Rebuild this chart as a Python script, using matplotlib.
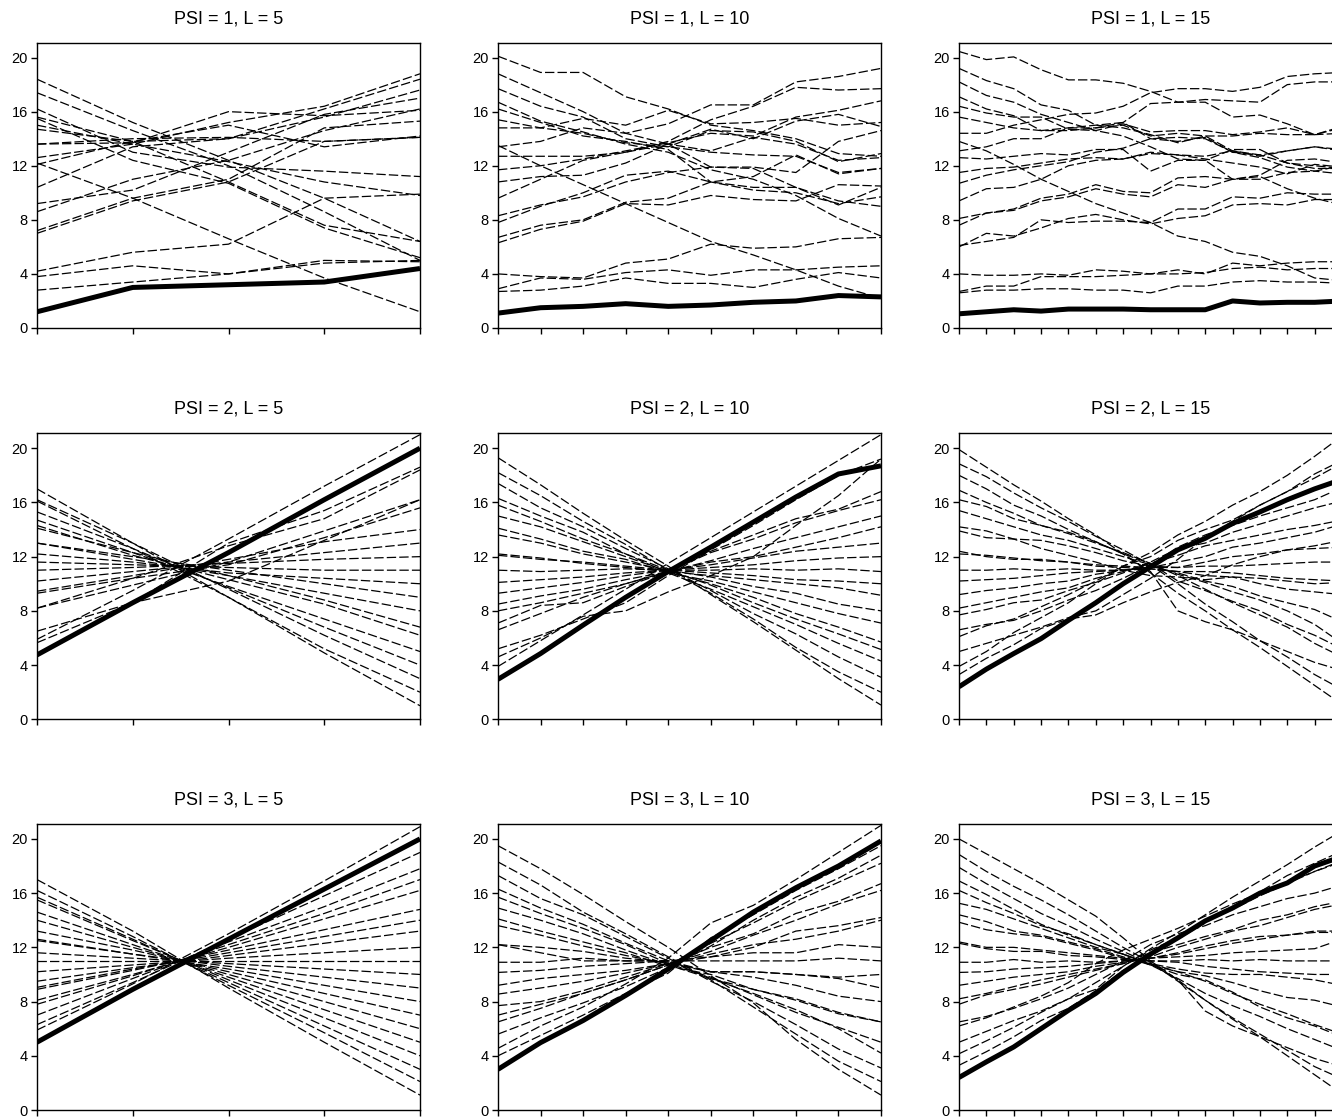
import matplotlib
matplotlib.use("Agg")
import matplotlib.pyplot as plt

plt.rcParams['font.family'] = ['Liberation Sans', 'DejaVu Sans']

# ---- PSI = 1 ----
psi1_L5 = [
    [18.4, 15.2, 12.4, 9.6, 6.4],
    [17.4, 14.6, 12.0, 8.6, 5.0],
    [16.2, 13.0, 11.9, 11.6, 11.2],
    [15.6, 13.8, 10.8, 7.6, 6.4],
    [15.5, 12.4, 10.7, 7.4, 5.2],
    [15.0, 13.6, 12.3, 10.8, 9.8],
    [14.7, 13.8, 15.0, 13.4, 14.2],
    [13.6, 13.7, 16.0, 15.7, 16.1],
    [13.6, 14.0, 14.1, 13.8, 14.1],
    [12.6, 13.6, 15.2, 16.4, 18.8],
    [12.2, 9.6, 6.6, 3.7, 1.2],
    [12.1, 13.8, 14.0, 16.2, 18.4],
    [10.4, 13.4, 14.0, 15.6, 17.6],
    [9.2, 10.2, 13.0, 15.8, 17.0],
    [8.6, 11.0, 12.4, 14.6, 16.2],
    [7.2, 9.6, 11.0, 14.8, 15.3],
    [7.0, 9.4, 10.8, 13.8, 14.1],
    [4.2, 5.6, 6.2, 9.6, 9.9],
    [3.8, 4.6, 4.0, 4.8, 5.0],
    [2.8, 3.4, 4.0, 5.0, 4.9],
]
psi1_L5_bold = [1.2, 3.0, 3.2, 3.4, 4.4]

psi1_L10 = [
    [20.1, 18.9, 18.9, 17.1, 16.2, 15.0, 14.6, 14.0, 12.9, 12.7],
    [18.8, 17.4, 16.0, 14.4, 13.6, 11.9, 11.8, 10.4, 9.4, 9.0],
    [17.7, 16.4, 15.6, 14.0, 13.4, 14.6, 14.5, 13.8, 12.3, 12.9],
    [16.7, 15.3, 14.5, 13.6, 13.0, 11.7, 11.0, 9.8, 8.1, 6.8],
    [16.2, 15.2, 14.2, 13.8, 13.2, 10.8, 10.2, 10.0, 9.2, 9.7],
    [15.4, 14.8, 14.4, 13.7, 13.4, 13.0, 12.8, 12.7, 11.5, 11.8],
    [14.8, 14.8, 15.5, 15.0, 16.1, 15.1, 15.2, 15.5, 15.0, 15.2],
    [13.5, 12.0, 10.6, 9.2, 7.8, 6.4, 5.4, 4.3, 3.1, 2.2],
    [13.4, 13.8, 14.8, 14.4, 15.1, 16.5, 16.5, 18.2, 18.6, 19.2],
    [12.7, 12.7, 12.7, 13.0, 13.8, 15.4, 16.4, 17.8, 17.6, 17.7],
    [11.7, 12.0, 12.5, 13.1, 13.7, 14.4, 14.2, 15.6, 16.1, 16.8],
    [10.8, 11.2, 11.3, 12.2, 13.6, 14.7, 14.0, 15.3, 15.8, 14.9],
    [9.6, 11.0, 12.4, 13.0, 13.6, 13.1, 14.1, 13.6, 12.4, 12.6],
    [8.3, 9.1, 9.7, 10.8, 11.5, 11.9, 11.9, 11.5, 13.8, 14.6],
    [7.8, 9.0, 10.0, 11.3, 11.6, 10.8, 10.4, 10.4, 9.1, 10.4],
    [6.7, 7.6, 8.0, 9.3, 9.6, 10.8, 11.2, 12.8, 11.4, 11.8],
    [6.3, 7.3, 7.9, 9.2, 9.1, 9.8, 9.5, 9.4, 10.6, 10.5],
    [4.0, 3.8, 3.7, 4.8, 5.1, 6.2, 5.9, 6.0, 6.6, 6.7],
    [2.9, 3.7, 3.6, 4.1, 4.3, 3.9, 4.3, 4.3, 4.5, 4.6],
    [2.7, 2.8, 3.1, 3.7, 3.3, 3.3, 3.0, 3.6, 4.1, 3.7],
]
psi1_L10_bold = [1.1, 1.5, 1.6, 1.8, 1.6, 1.7, 1.9, 2.0, 2.4, 2.3]

psi1_L15 = [
    [20.45, 19.85, 20.05, 19.1, 18.35, 18.35, 18.1, 17.5, 16.7, 16.7, 15.6, 15.75, 15.1, 14.3, 14.9],
    [19.2, 18.3, 17.7, 16.5, 16.1, 15.0, 14.8, 14.3, 13.7, 14.2, 13.1, 12.8, 13.1, 13.4, 13.2],
    [18.2, 17.2, 16.7, 15.8, 15.2, 14.6, 14.2, 13.4, 12.5, 12.4, 11.0, 11.0, 11.5, 11.6, 12.0],
    [17.1, 16.2, 15.7, 14.6, 14.8, 15.0, 15.2, 14.0, 13.8, 14.1, 13.0, 12.8, 12.2, 12.0, 11.8],
    [16.4, 15.9, 15.6, 15.6, 14.7, 14.6, 15.1, 14.5, 14.6, 14.6, 14.3, 14.5, 14.8, 14.3, 14.4],
    [15.6, 15.2, 14.8, 14.6, 14.6, 14.8, 15.0, 14.2, 14.4, 14.2, 14.2, 14.4, 14.3, 14.3, 14.8],
    [14.4, 14.4, 15.0, 15.4, 15.8, 15.9, 16.4, 17.4, 17.7, 17.7, 17.5, 17.8, 18.6, 18.8, 18.9],
    [13.8, 13.1, 12.1, 11.0, 10.1, 9.2, 8.5, 7.8, 6.8, 6.4, 5.6, 5.3, 4.6, 3.7, 3.5],
    [13.1, 13.4, 14.0, 14.0, 14.8, 14.8, 15.2, 16.6, 16.7, 16.9, 16.8, 16.7, 18.0, 18.2, 18.2],
    [12.6, 12.5, 12.7, 12.9, 12.8, 13.2, 13.2, 11.6, 12.4, 12.4, 13.2, 13.2, 12.2, 11.8, 11.8],
    [11.5, 11.8, 11.9, 12.2, 12.5, 12.6, 12.5, 13.0, 12.8, 12.7, 13.1, 12.7, 13.1, 13.4, 13.1],
    [10.7, 11.3, 11.7, 12.0, 12.3, 13.0, 13.3, 14.0, 14.1, 14.0, 13.0, 12.6, 11.9, 11.6, 11.4],
    [9.4, 10.3, 10.4, 11.0, 12.0, 12.4, 12.5, 12.9, 12.8, 12.5, 12.2, 11.9, 11.4, 12.1, 11.9],
    [8.1, 8.5, 8.8, 9.6, 9.9, 10.6, 10.1, 10.0, 11.1, 11.2, 11.0, 11.3, 12.4, 12.5, 12.2],
    [7.6, 8.5, 8.7, 9.4, 9.7, 10.3, 9.9, 9.7, 10.6, 10.4, 11.0, 11.2, 10.3, 9.6, 9.1],
    [6.1, 6.4, 6.7, 8.0, 7.8, 7.9, 7.9, 7.8, 8.8, 8.8, 9.7, 9.6, 10.0, 9.9, 9.9],
    [6.0, 7.0, 6.8, 7.4, 8.1, 8.4, 8.0, 7.7, 8.1, 8.3, 9.1, 9.2, 9.1, 9.5, 9.5],
    [4.0, 3.9, 3.9, 4.0, 3.9, 4.3, 4.2, 4.0, 4.3, 4.0, 4.8, 4.6, 4.8, 4.9, 4.9],
    [2.7, 3.1, 3.1, 3.8, 3.8, 3.8, 3.9, 4.0, 4.0, 4.1, 4.4, 4.5, 4.3, 4.4, 4.4],
    [2.6, 2.8, 2.8, 2.9, 2.9, 2.8, 2.8, 2.6, 3.1, 3.1, 3.4, 3.5, 3.4, 3.4, 3.3],
]
psi1_L15_bold = [1.05, 1.2, 1.35, 1.25, 1.4, 1.4, 1.4, 1.35, 1.35, 1.35, 2.0, 1.85, 1.9, 1.9, 2.0]

# ---- PSI = 2 ----
psi2_L5 = [
    [17.0, 13.0, 9.0, 4.9, 1.0],
    [16.2, 13.0, 9.6, 6.2, 3.0],
    [16.1, 12.6, 9.0, 5.2, 2.0],
    [15.3, 12.6, 9.7, 6.8, 4.0],
    [14.7, 12.3, 9.8, 7.4, 5.0],
    [14.3, 12.1, 10.3, 8.5, 6.2],
    [14.1, 12.3, 10.6, 8.8, 6.8],
    [13.0, 11.8, 10.6, 9.3, 8.0],
    [13.0, 12.0, 11.0, 10.0, 9.0],
    [12.2, 11.6, 10.8, 10.4, 10.0],
    [11.6, 11.4, 11.2, 11.0, 11.0],
    [11.0, 11.2, 11.5, 11.8, 12.0],
    [10.2, 10.9, 11.6, 12.3, 13.0],
    [9.45, 10.6, 11.8, 13.1, 14.0],
    [9.3, 10.4, 11.4, 13.4, 15.6],
    [8.2, 9.9, 11.6, 13.9, 16.2],
    [8.2, 10.4, 12.8, 14.8, 18.4],
    [6.5, 8.6, 13.0, 15.4, 18.6],
    [5.9, 9.5, 13.3, 17.2, 21.0],
    [5.65, 8.6, 10.2, 13.2, 16.2],
]
psi2_L5_bold = [4.75, 8.6, 12.3, 16.2, 20.0]

psi2_L10 = [
    [19.3, 17.3, 15.2, 13.2, 11.3, 9.2, 7.2, 5.1, 3.0, 1.05],
    [18.2, 16.5, 14.6, 12.9, 11.0, 9.3, 7.4, 5.3, 3.5, 2.0],
    [17.4, 15.6, 14.2, 12.6, 11.1, 9.5, 7.8, 6.3, 4.6, 3.1],
    [16.3, 15.0, 13.8, 12.2, 10.8, 9.6, 8.3, 7.0, 5.6, 4.3],
    [15.8, 14.6, 13.3, 12.2, 11.0, 9.9, 8.6, 7.4, 6.3, 5.15],
    [15.0, 14.2, 13.1, 12.0, 10.9, 10.0, 9.0, 7.8, 6.8, 5.7],
    [14.1, 13.3, 12.4, 11.8, 10.8, 10.2, 9.4, 8.6, 7.8, 7.1],
    [13.6, 13.0, 12.2, 11.6, 11.0, 10.5, 9.8, 9.3, 8.5, 8.0],
    [12.2, 11.9, 11.5, 11.2, 10.9, 10.6, 10.3, 10.0, 9.7, 9.15],
    [12.1, 11.8, 11.6, 11.3, 11.0, 10.8, 10.6, 10.3, 10.2, 10.0],
    [11.0, 10.9, 11.0, 11.1, 11.0, 11.0, 11.1, 11.0, 11.1, 10.9],
    [10.1, 10.3, 10.5, 10.8, 11.0, 11.2, 11.4, 11.7, 11.9, 12.0],
    [9.3, 9.7, 10.1, 10.6, 11.0, 11.4, 11.9, 12.4, 12.7, 13.0],
    [8.5, 9.1, 9.6, 10.3, 10.9, 11.6, 12.0, 12.7, 13.4, 14.2],
    [8.0, 8.6, 9.3, 10.0, 10.9, 11.7, 12.6, 13.4, 14.2, 15.0],
    [7.1, 8.4, 8.6, 9.8, 10.9, 12.3, 13.3, 14.5, 15.4, 16.2],
    [6.6, 7.8, 9.0, 10.0, 10.9, 12.4, 13.6, 14.8, 15.5, 16.8],
    [5.2, 6.2, 7.4, 8.6, 10.6, 12.5, 14.3, 16.2, 18.0, 19.2],
    [4.6, 6.0, 7.6, 8.0, 9.4, 10.6, 12.0, 14.3, 16.5, 19.2],
    [3.9, 5.8, 7.7, 9.6, 11.5, 13.4, 15.3, 17.2, 19.1, 21.0],
]
psi2_L10_bold = [2.95, 4.85, 6.95, 9.0, 10.9, 12.7, 14.55, 16.4, 18.1, 18.7]

psi2_L15 = [
    [19.9, 18.6, 17.3, 16.1, 14.8, 13.6, 12.2, 10.8, 9.3, 8.0, 6.6, 5.3, 3.9, 2.5, 1.1],
    [18.85, 17.9, 16.7, 15.6, 14.6, 13.5, 12.5, 11.4, 10.0, 8.5, 7.2, 5.8, 4.6, 3.3, 2.2],
    [18.0, 17.0, 15.8, 15.0, 14.0, 13.1, 12.2, 10.9, 8.0, 7.2, 6.6, 5.8, 5.0, 4.2, 3.6],
    [16.9, 16.0, 15.2, 14.3, 13.7, 13.0, 12.3, 11.5, 10.6, 9.6, 8.6, 7.7, 6.8, 5.6, 4.6],
    [16.2, 15.7, 14.8, 14.3, 13.8, 13.1, 12.2, 11.5, 10.2, 9.5, 8.7, 8.0, 7.0, 6.2, 5.2],
    [15.4, 14.8, 14.2, 13.6, 13.2, 12.6, 12.0, 11.4, 10.7, 10.1, 9.4, 8.8, 8.0, 7.0, 5.6],
    [14.2, 13.9, 13.3, 13.2, 12.8, 12.3, 11.7, 11.3, 10.8, 10.2, 9.8, 9.1, 8.6, 8.1, 7.2],
    [13.9, 13.4, 13.3, 12.6, 12.1, 11.6, 11.0, 10.6, 10.5, 10.3, 10.5, 10.0, 9.6, 9.4, 9.2],
    [12.4, 12.0, 11.8, 11.8, 11.6, 11.3, 11.2, 11.1, 10.9, 10.6, 10.5, 10.4, 10.2, 10.0, 10.1],
    [12.2, 12.1, 11.9, 11.7, 11.6, 11.4, 11.3, 11.2, 11.2, 11.3, 11.3, 11.4, 11.5, 11.6, 11.6],
    [11.0, 11.0, 11.1, 11.0, 11.1, 11.0, 11.0, 11.1, 10.9, 10.9, 10.8, 10.6, 10.4, 10.3, 10.2],
    [10.2, 10.3, 10.4, 10.6, 10.8, 10.9, 11.0, 11.3, 11.2, 11.6, 12.0, 12.2, 12.5, 12.6, 12.7],
    [9.2, 9.5, 9.7, 10.0, 10.2, 10.7, 11.0, 11.2, 11.6, 12.0, 12.7, 13.0, 13.4, 13.8, 14.4],
    [8.2, 8.6, 9.0, 9.4, 9.7, 10.4, 10.9, 11.5, 12.1, 12.8, 13.2, 13.6, 14.0, 14.3, 14.7],
    [7.7, 8.1, 8.6, 8.8, 9.5, 10.1, 10.8, 11.6, 12.6, 13.0, 13.8, 14.4, 15.0, 15.6, 16.1],
    [6.6, 7.0, 7.3, 8.0, 8.8, 9.5, 10.4, 11.4, 12.7, 13.6, 14.3, 15.0, 15.6, 16.2, 17.1],
    [6.1, 6.9, 7.4, 8.3, 9.2, 10.2, 11.3, 12.0, 13.2, 14.0, 14.7, 15.8, 16.8, 17.8, 18.9],
    [5.0, 5.6, 6.2, 6.8, 7.5, 8.0, 9.2, 10.4, 11.8, 13.4, 14.6, 15.8, 16.8, 18.1, 19.1],
    [3.9, 5.0, 6.4, 7.5, 8.6, 10.0, 11.3, 12.3, 13.6, 14.6, 15.8, 16.8, 18.0, 19.4, 20.9],
    [3.3, 4.5, 5.5, 6.7, 7.4, 7.7, 8.6, 9.4, 10.1, 10.6, 11.4, 12.0, 12.5, 12.8, 13.2],
]
psi2_L15_bold = [2.4, 3.7, 4.85, 5.95, 7.3, 8.6, 10.0, 11.25, 12.5, 13.35, 14.45, 15.3, 16.2, 17.0, 17.7]

# ---- PSI = 3 ----
psi3_L5 = [
    [17.0, 13.2, 9.0, 5.0, 1.1],
    [16.2, 12.8, 9.2, 5.7, 2.1],
    [15.7, 12.6, 9.4, 6.2, 3.0],
    [15.5, 12.5, 9.6, 6.8, 4.0],
    [14.6, 12.2, 9.8, 7.4, 5.0],
    [14.0, 12.0, 10.0, 8.0, 6.0],
    [13.2, 11.8, 10.2, 8.6, 7.0],
    [12.6, 11.5, 10.4, 9.2, 8.0],
    [12.5, 11.5, 10.6, 9.8, 9.0],
    [11.6, 11.2, 10.8, 10.4, 10.0],
    [11.0, 11.0, 11.0, 11.0, 11.0],
    [10.2, 10.7, 11.2, 11.6, 12.0],
    [9.5, 10.5, 11.4, 12.3, 13.2],
    [9.05, 10.4, 11.6, 12.8, 14.0],
    [8.9, 10.3, 11.8, 13.3, 14.8],
    [8.1, 10.0, 12.0, 14.1, 16.2],
    [7.8, 9.9, 12.2, 14.5, 17.0],
    [7.0, 9.7, 12.4, 15.0, 17.8],
    [6.3, 9.4, 12.6, 15.8, 19.0],
    [5.9, 9.3, 13.0, 16.9, 20.9],
]
psi3_L5_bold = [5.0, 8.9, 12.6, 16.3, 20.0]

psi3_L10 = [
    [19.5, 17.8, 15.9, 13.9, 12.0, 9.9, 7.9, 5.2, 3.0, 1.1],
    [18.3, 16.6, 14.6, 13.0, 11.3, 9.6, 7.6, 5.6, 3.6, 2.1],
    [17.3, 15.6, 14.4, 12.8, 11.2, 9.5, 8.0, 6.3, 4.5, 3.1],
    [16.3, 14.9, 13.7, 12.3, 11.0, 9.7, 8.6, 7.4, 6.0, 4.2],
    [15.7, 14.5, 13.4, 12.2, 10.8, 9.8, 8.5, 7.2, 6.1, 5.0],
    [14.9, 14.0, 13.0, 11.8, 10.7, 9.7, 8.9, 8.2, 7.2, 6.5],
    [14.1, 13.2, 12.4, 11.6, 10.6, 10.0, 8.9, 8.1, 7.1, 6.5],
    [13.6, 12.9, 12.1, 11.4, 10.8, 10.2, 9.8, 9.2, 8.4, 8.0],
    [12.2, 12.0, 11.7, 11.2, 10.9, 10.2, 10.2, 10.0, 9.7, 9.0],
    [12.2, 11.6, 11.0, 11.0, 11.0, 10.2, 10.2, 10.0, 9.8, 10.0],
    [10.9, 10.9, 11.2, 11.0, 11.0, 11.0, 11.0, 11.0, 11.2, 11.0],
    [10.15, 10.3, 10.6, 10.8, 11.0, 11.3, 11.6, 11.6, 12.2, 12.0],
    [9.2, 9.7, 10.0, 10.3, 10.8, 11.3, 12.0, 13.2, 13.6, 14.2],
    [8.55, 9.0, 9.5, 10.1, 10.8, 11.5, 12.2, 12.6, 13.2, 14.0],
    [7.7, 8.0, 8.8, 9.8, 10.8, 11.7, 12.9, 14.0, 15.2, 16.2],
    [7.0, 7.8, 8.6, 9.6, 10.7, 12.0, 13.0, 14.5, 15.4, 16.7],
    [6.5, 7.5, 8.6, 9.6, 10.7, 12.3, 13.8, 15.4, 16.8, 18.2],
    [5.6, 6.8, 7.9, 9.1, 10.5, 12.1, 14.0, 15.7, 17.1, 18.8],
    [4.55, 6.2, 7.6, 9.3, 11.2, 13.8, 15.1, 17.0, 19.0, 21.0],
    [4.0, 5.5, 7.0, 8.6, 10.1, 12.7, 14.4, 16.2, 17.8, 19.5],
]
psi3_L10_bold = [3.0, 4.97, 6.6, 8.45, 10.4, 12.5, 14.6, 16.4, 18.0, 19.85]

psi3_L15 = [
    [20.0, 18.9, 17.8, 16.7, 15.5, 14.3, 12.7, 11.0, 9.6, 8.1, 6.7, 5.4, 4.0, 2.6, 1.2],
    [18.85, 17.6, 16.5, 15.5, 14.4, 13.2, 12.0, 10.9, 9.5, 8.1, 6.8, 5.6, 4.4, 3.2, 2.3],
    [17.9, 16.7, 15.6, 14.5, 13.6, 12.6, 11.7, 10.8, 9.6, 7.3, 6.2, 5.4, 4.6, 3.8, 3.2],
    [16.9, 15.9, 14.8, 13.7, 12.9, 12.2, 11.5, 10.7, 9.7, 8.6, 7.7, 6.9, 6.0, 5.2, 4.4],
    [16.2, 15.3, 14.5, 13.6, 13.0, 12.2, 11.5, 10.7, 10.0, 9.6, 8.7, 7.6, 6.8, 6.2, 5.4],
    [15.25, 14.8, 14.1, 13.4, 12.7, 12.0, 11.5, 10.8, 10.2, 9.5, 8.6, 7.8, 7.1, 6.3, 5.6],
    [14.4, 13.9, 13.2, 12.9, 12.4, 11.9, 11.3, 10.7, 10.2, 9.9, 9.4, 8.8, 8.3, 8.1, 7.6],
    [13.85, 13.3, 13.0, 12.8, 12.3, 11.8, 11.2, 10.8, 10.4, 10.1, 10.0, 10.0, 9.8, 9.6, 9.2],
    [12.4, 12.0, 12.0, 11.8, 11.6, 11.4, 11.2, 11.0, 10.9, 10.6, 10.4, 10.2, 10.1, 10.0, 10.0],
    [12.3, 11.9, 11.7, 11.7, 11.4, 11.3, 11.1, 11.0, 11.0, 11.1, 11.0, 11.1, 11.0, 11.0, 11.0],
    [10.9, 10.9, 11.1, 10.9, 11.0, 10.9, 11.0, 11.2, 11.3, 11.4, 11.6, 11.7, 11.8, 11.9, 12.6],
    [10.15, 10.2, 10.4, 10.5, 10.6, 10.8, 11.0, 11.2, 11.5, 11.9, 12.3, 12.6, 12.9, 13.1, 13.1],
    [9.2, 9.5, 9.8, 10.0, 10.2, 10.6, 10.9, 11.2, 11.6, 12.1, 12.5, 12.8, 12.9, 13.2, 13.2],
    [8.2, 8.6, 9.1, 9.6, 10.0, 10.4, 10.8, 11.3, 12.0, 12.6, 13.2, 13.6, 14.2, 14.8, 15.2],
    [7.8, 8.5, 8.9, 9.3, 9.8, 10.3, 10.8, 11.6, 12.2, 12.8, 13.3, 14.0, 14.4, 15.0, 15.4],
    [6.5, 6.9, 7.5, 8.2, 9.0, 10.0, 11.0, 12.2, 13.0, 13.6, 14.4, 15.0, 15.6, 16.0, 16.6],
    [6.2, 6.8, 7.6, 8.4, 9.4, 10.8, 11.8, 12.6, 13.4, 14.3, 15.2, 16.0, 16.8, 17.6, 18.4],
    [5.0, 5.8, 6.6, 7.3, 8.2, 8.9, 10.6, 11.8, 12.7, 13.9, 14.8, 15.8, 16.7, 17.6, 18.3],
    [4.15, 5.1, 6.1, 7.2, 8.2, 9.4, 10.6, 11.9, 13.1, 14.4, 15.7, 16.9, 18.1, 19.4, 20.6],
    [3.3, 4.3, 5.4, 6.6, 7.5, 8.8, 10.3, 11.4, 12.6, 13.8, 15.0, 16.1, 17.3, 18.2, 19.1],
]
psi3_L15_bold = [2.4, 3.55, 4.65, 6.0, 7.35, 8.6, 10.15, 11.5, 12.7, 13.95, 14.9, 16.0, 16.75, 18.0, 18.7]

psi_values = [1, 2, 3]
l_values = [5, 10, 15]
panels = {
    (1, 5): (psi1_L5, psi1_L5_bold), (1, 10): (psi1_L10, psi1_L10_bold), (1, 15): (psi1_L15, psi1_L15_bold),
    (2, 5): (psi2_L5, psi2_L5_bold), (2, 10): (psi2_L10, psi2_L10_bold), (2, 15): (psi2_L15, psi2_L15_bold),
    (3, 5): (psi3_L5, psi3_L5_bold), (3, 10): (psi3_L10, psi3_L10_bold), (3, 15): (psi3_L15, psi3_L15_bold),
}

W, H = 1332, 1118
fig = plt.figure(figsize=(W / 100, H / 100), dpi=100)

col_left = [37, 498, 959]
ax_w = 383
row_span = [(42.7, 328), (433.3, 719.3), (824, 1110)]

for i, psi in enumerate(psi_values):
    top, bot = row_span[i]
    for j, L in enumerate(l_values):
        ax = fig.add_axes([col_left[j] / W, 1 - bot / H, ax_w / W, (bot - top) / H])
        lines, bold = panels[(psi, L)]
        x = list(range(1, L + 1))
        for y in lines:
            ax.plot(x, y, color='black', lw=0.9, dashes=(7.5, 2.5))
        ax.plot(x, bold, color='black', lw=3.6, solid_capstyle='butt')
        ax.set_xlim(1, L)
        ax.set_ylim(0, 21.1)
        ax.set_xticks(x)
        ax.set_xticklabels([])
        ax.set_yticks([0, 4, 8, 12, 16, 20])
        ax.tick_params(direction='out', length=4.5, width=1, labelsize=10.5, pad=2)
        for s in ax.spines.values():
            s.set_linewidth(1.0)
        ax.set_title(f'PSI = {psi}, L = {L}', fontsize=13, pad=14)

fig.savefig('out.png', dpi=100)
